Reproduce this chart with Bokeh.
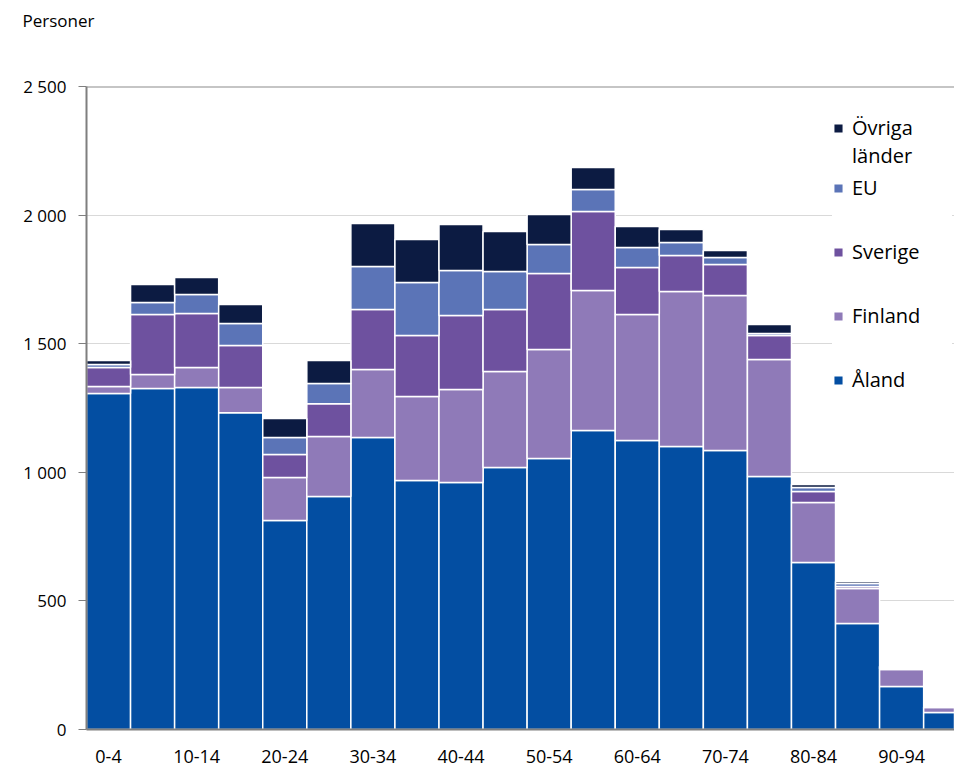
from bokeh.plotting import figure
from bokeh.models import (Range1d, FixedTicker, Legend, LegendItem, Span, Title)
from bokeh.embed import file_html
from bokeh.resources import INLINE

categories = ["0-4", "5-9", "10-14", "15-19", "20-24", "25-29", "30-34", "35-39",
              "40-44", "45-49", "50-54", "55-59", "60-64", "65-69", "70-74", "75-79",
              "80-84", "85-89", "90-94", "95+"]
aland   = [1306, 1326, 1330, 1232, 813, 906, 1135, 968, 960, 1019, 1054, 1163, 1124, 1100, 1085, 984, 649, 412, 167, 66]
finland = [28, 54, 77, 98, 167, 233, 265, 327, 362, 373, 423, 544, 490, 603, 602, 455, 234, 136, 66, 20]
sverige = [73, 234, 210, 163, 89, 128, 233, 237, 288, 241, 296, 307, 182, 140, 121, 93, 42, 8, 4, 2]
eu      = [12, 46, 74, 86, 66, 78, 167, 206, 175, 148, 113, 86, 78, 50, 27, 8, 16, 12, 4, 1]
ovriga  = [16, 70, 66, 73, 74, 90, 167, 167, 178, 155, 116, 85, 82, 51, 27, 35, 12, 7, 4, 1]

series = [("Åland", aland, "#034ea2"),
          ("Finland", finland, "#8f7ab8"),
          ("Sverige", sverige, "#6e519f"),
          ("EU", eu, "#5b74b7"),
          ("Övriga länder", ovriga, "#0c1b42")]

y_ticks = [0, 500, 1000, 1500, 2000, 2500]
y_tick_labels = ["0", "500", "1 000", "1 500", "2 000", "2 500"]

FONT = "Open Sans"

p = figure(width=954, height=767, output_backend="svg", toolbar_location=None,
           x_range=Range1d(-0.5, 19.2), y_range=Range1d(0, 2500),
           min_border_left=86, min_border_right=0, min_border_top=86, min_border_bottom=38)
p.outline_line_color = None
p.background_fill_color = "white"
p.border_fill_color = "white"

xs = list(range(len(categories)))
bottom = [0] * len(categories)
renderers = {}
for name, vals, color in series:
    top = [b + v for b, v in zip(bottom, vals)]
    r = p.vbar(x=xs, bottom=bottom, top=top, width=1.0, fill_color=color,
               line_color="white", line_width=1.5)
    renderers[name] = r
    bottom = top

# invisible renderer used for the second line of the legend label
dummy = p.vbar(x=[], top=[], width=1.0, fill_alpha=0, line_alpha=0)

# axes
p.xgrid.visible = False
p.ygrid.grid_line_color = "#d9d9d9"
p.ygrid.grid_line_width = 1
p.ygrid.ticker = FixedTicker(ticks=y_ticks[:-1])
p.add_layout(Span(location=2500, dimension="width", line_color="#8c8c8c", line_width=2))

p.yaxis.ticker = FixedTicker(ticks=y_ticks)
p.yaxis.major_label_overrides = {t: l for t, l in zip(y_ticks, y_tick_labels)}
p.yaxis.axis_line_color = "#7f7f7f"
p.yaxis.axis_line_width = 2
p.yaxis.major_tick_line_color = "#7f7f7f"
p.yaxis.major_tick_out = 8
p.yaxis.major_tick_in = 0
p.yaxis.minor_tick_line_color = None
p.yaxis.major_label_text_font = FONT
p.yaxis.major_label_text_font_size = "17px"
p.yaxis.major_label_text_color = "#000000"
p.yaxis.major_label_standoff = 12

even = xs[::2]
p.xaxis.ticker = FixedTicker(ticks=even)
p.xaxis.major_label_overrides = {i: categories[i] for i in even}
p.xaxis.axis_line_color = "#7f7f7f"
p.xaxis.axis_line_width = 2
p.xaxis.major_tick_line_color = None
p.xaxis.major_tick_out = 0
p.xaxis.minor_tick_line_color = None
p.xaxis.major_label_text_font = FONT
p.xaxis.major_label_text_font_size = "18px"
p.xaxis.major_label_text_color = "#000000"
p.xaxis.major_label_standoff = 20

# spacer next to the frame, then the unit label above it
p.add_layout(Title(text=" ", text_font=FONT, text_font_size="16px", standoff=31), "above")
p.add_layout(Title(text="Personer", align="left", offset=-64, standoff=0,
                   text_font=FONT, text_font_size="17px",
                   text_font_style="normal", text_color="#000000"), "above")

# legends
def make_legend(items, loc, spacing, padding):
    return Legend(items=items, location=loc, background_fill_color="white",
                  background_fill_alpha=1.0, border_line_color=None,
                  label_text_font=FONT, label_text_font_size="20px", label_text_color="#000000",
                  glyph_width=12, glyph_height=12, label_standoff=8, spacing=spacing,
                  padding=padding, margin=0, label_height=20, label_width=100)

lg2 = make_legend([LegendItem(label=n, renderers=[renderers[n]]) for n in ["EU", "Sverige", "Finland", "Åland"]],
                  (746, 336), 37, 10)
lg1 = make_legend([LegendItem(label="Övriga", renderers=[renderers["Övriga länder"]]),
                   LegendItem(label="länder", renderers=[dummy])],
                  (746, 560), 1, 4)
p.add_layout(lg2, "center")
p.add_layout(lg1, "center")

open("out.html", "w").write(file_html(p, INLINE))
